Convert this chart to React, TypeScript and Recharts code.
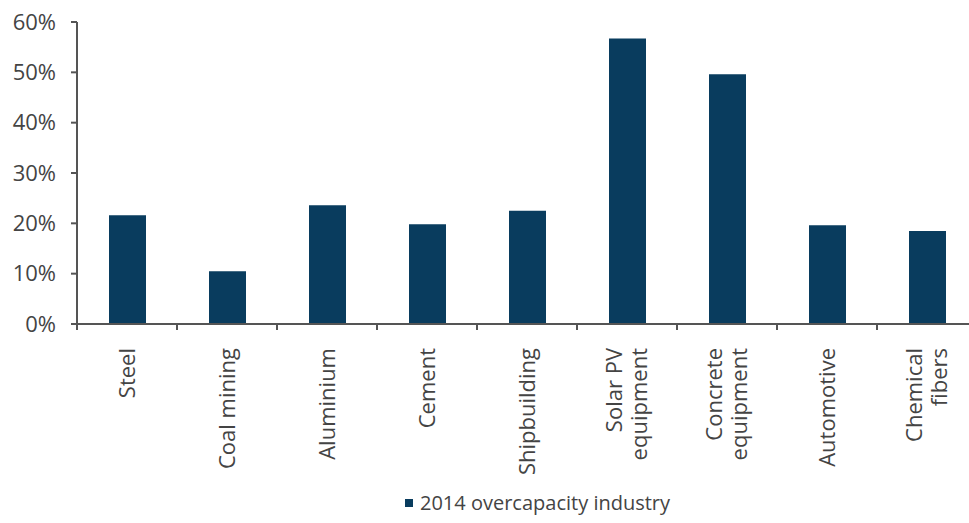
import React from "react";
import { BarChart, Bar, XAxis, YAxis, Legend } from "recharts";

const categories: string[][] = [
  ["Steel"],
  ["Coal mining"],
  ["Aluminium"],
  ["Cement"],
  ["Shipbuilding"],
  ["Solar PV", "equipment"],
  ["Concrete", "equipment"],
  ["Automotive"],
  ["Chemical", "fibers"],
];
const values: number[] = [21.6, 10.5, 23.6, 19.8, 22.5, 56.7, 49.6, 19.6, 18.5];
const yTicks: number[] = [0, 10, 20, 30, 40, 50, 60];
const edgeTicks: number[] = [0, 1, 2, 3, 4, 5, 6, 7, 8, 9];
const seriesName = "2014 overcapacity industry";

const data = categories.map((c, i) => ({ name: c.join(" "), idx: i, value: values[i] }));

const BAR = "#093c5e";
const AXIS = "#555555";
const TEXT = "#444444";
const FONT = "'Open Sans', sans-serif";

const CatTick = (props: any) => {
  const { x, y, payload } = props;
  const lines = categories[payload.index] ?? [String(payload.value)];
  const lh = 25;
  const ty = y + 15;
  return (
    <g>
      {lines.map((ln, i) => {
        const cx = x + (i - (lines.length - 1) / 2) * lh;
        return (
          <text
            key={i}
            x={cx}
            y={ty}
            transform={`rotate(-90, ${cx}, ${ty})`}
            textAnchor="end"
            dy="0.35em"
            fill={TEXT}
            fontSize={22}
            fontFamily={FONT}
          >
            {ln}
          </text>
        );
      })}
    </g>
  );
};

const EmptyTick = () => <g />;

const LegendContent = () => (
  <div style={{ display: "flex", alignItems: "center", fontFamily: FONT, fontSize: 20, color: TEXT, lineHeight: "27px" }}>
    <span style={{ display: "inline-block", width: 8, height: 8, background: BAR, marginRight: 7 }} />
    <span>{seriesName}</span>
  </div>
);

export default function App() {
  return (
    <div style={{ position: "absolute", left: 0, top: 0, width: 969, height: 523, overflow: "hidden", background: "#fff" }}>
      <BarChart
        width={1000}
        height={523}
        data={data}
        margin={{ top: 22, right: 23, left: 0, bottom: 12 }}
        barCategoryGap={0}
      >
        <XAxis
          xAxisId="a_edges"
          type="number"
          dataKey="idx"
          domain={[0, 9]}
          ticks={edgeTicks}
          interval={0}
          height={1}
          tickSize={6}
          tick={<EmptyTick />}
          axisLine={{ stroke: AXIS, strokeWidth: 2 }}
          tickLine={{ stroke: AXIS, strokeWidth: 2 }}
          allowDataOverflow
        />
        <XAxis
          xAxisId="b_cat"
          dataKey="name"
          interval={0}
          height={159}
          axisLine={false}
          tickLine={false}
          tick={<CatTick />}
        />
        <YAxis
          yAxisId="left"
          orientation="left"
          domain={[0, 60]}
          ticks={yTicks}
          tickFormatter={(v: number) => `${v}%`}
          width={77}
          tickSize={6}
          tickMargin={15}
          axisLine={{ stroke: AXIS, strokeWidth: 2 }}
          tickLine={{ stroke: AXIS, strokeWidth: 2 }}
          tick={{ fill: TEXT, fontSize: 22, fontFamily: FONT }}
          interval={0}
        />
        <Legend
          content={<LegendContent />}
          wrapperStyle={{ left: 405, top: 489, width: 330, bottom: "auto" }}
        />
        <Bar xAxisId="b_cat" yAxisId="left" dataKey="value" name={seriesName} fill={BAR} barSize={37} isAnimationActive={false} />
      </BarChart>
    </div>
  );
}
